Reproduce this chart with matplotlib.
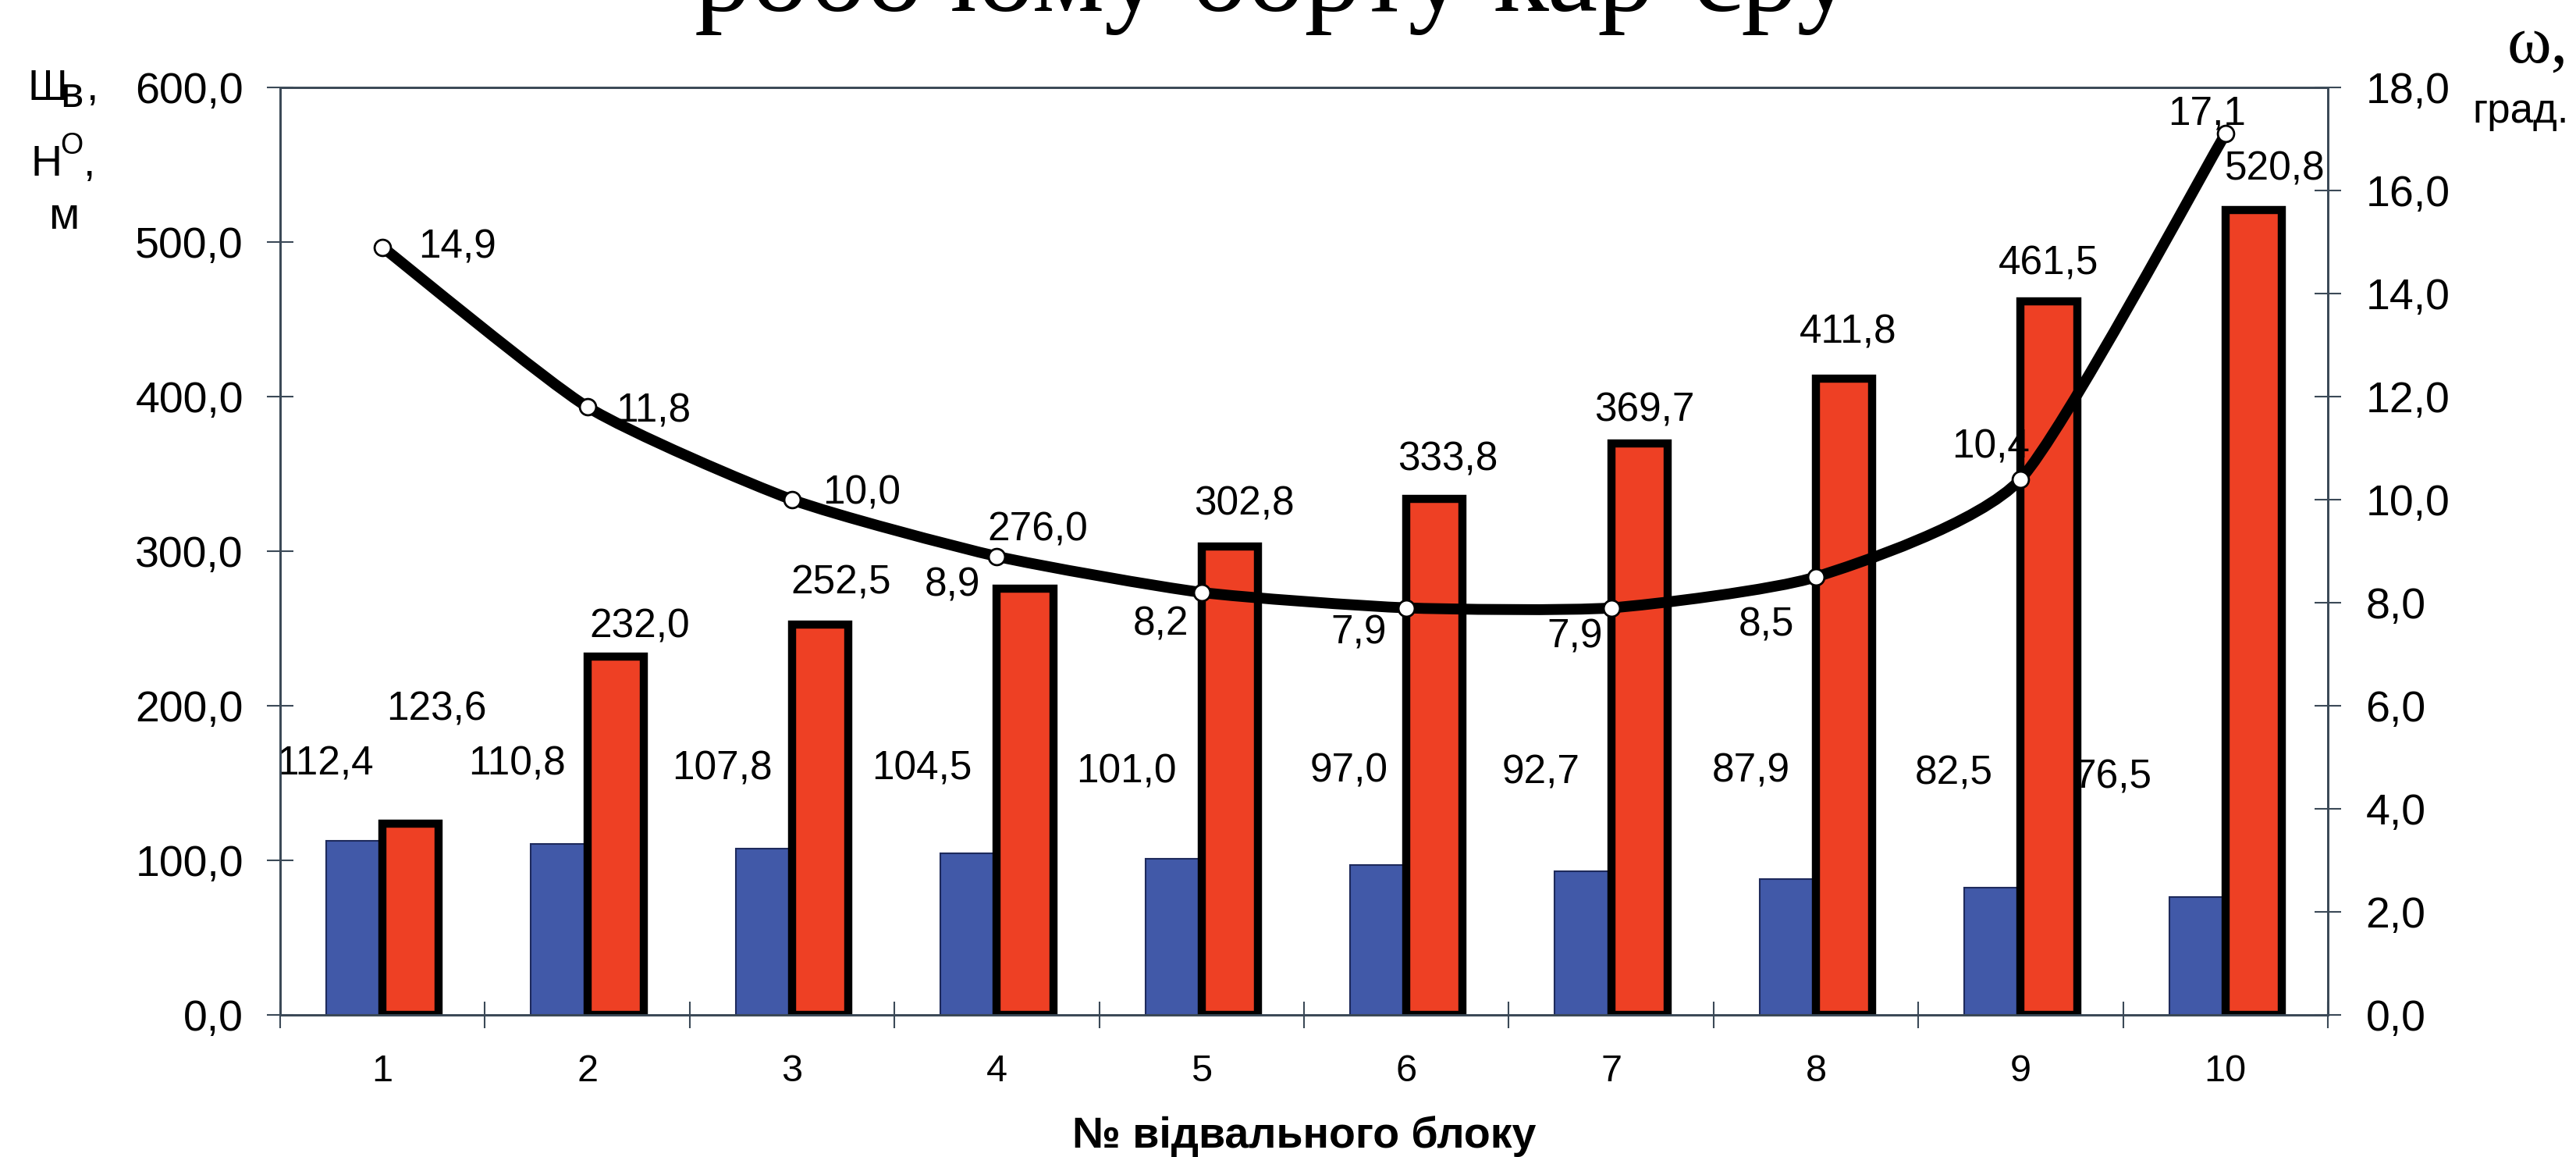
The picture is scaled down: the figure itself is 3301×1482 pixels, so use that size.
import matplotlib
matplotlib.use("Agg")
import matplotlib.pyplot as plt
import numpy as np
from matplotlib.path import Path
from matplotlib.patches import PathPatch
from matplotlib.ticker import FuncFormatter

plt.rcParams["font.family"] = ["Liberation Sans", "DejaVu Sans"]

# ---- дані ----
blocks = ["1", "2", "3", "4", "5", "6", "7", "8", "9", "10"]
shv = [112.4, 110.8, 107.8, 104.5, 101.0, 97.0, 92.7, 87.9, 82.5, 76.5]       # Шв, м
ho = [123.6, 232.0, 252.5, 276.0, 302.8, 333.8, 369.7, 411.8, 461.5, 520.8]   # Но, м
omega = [14.9, 11.8, 10.0, 8.9, 8.2, 7.9, 7.9, 8.5, 10.4, 17.1]              # ω, град.

left_ticks = [0, 100, 200, 300, 400, 500, 600]
right_ticks = [0, 2, 4, 6, 8, 10, 12, 14, 16, 18]

# зсуви підписів (пт), окремо від даних
shv_lbl_dx = [-8, -20, -18, -23, -23, -17, -29, -24, -26, -68]
shv_lbl_dy = [71, 73, 73, 78, 80, 86, 91, 99, 105, 110]
ho_lbl_dx = [24, 22, 19, 12, 13, 12, 5, 4, 0, 20]
ho_lbl_dy = [105, 27, 38, 54, 39, 36, 30, 42, 35, 37]
om_lbl = [(33, 0, "left"), (26, -4, "left"), (28, 6, "left"), (-15, -27, "right"),
          (-12, -30, "right"), (-18, -23, "right"), (-8, -27, "right"),
          (-20, -45, "right"), (8, 29, "right"), (-17, 18, "center")]

BLUE = "#4159A8"
RED = "#EE4024"
SPINE = "#3B4957"
W = 3301
H = 1482
TENSION = 0.1   # згладжування лінії (Excel ~ 1/6)


def fmt(v):
    return f"{v:.1f}".replace(".", ",")


def smooth_path(xs, ys, k=TENSION):
    # згладжена лінія (кубічні Безьє через точки)
    verts = [(xs[0], ys[0])]
    codes = [Path.MOVETO]
    n = len(xs)
    for i in range(n - 1):
        x0, y0 = (xs[i - 1], ys[i - 1]) if i > 0 else (xs[i], ys[i])
        x1, y1 = xs[i], ys[i]
        x2, y2 = xs[i + 1], ys[i + 1]
        x3, y3 = (xs[i + 2], ys[i + 2]) if i + 2 < n else (x2, y2)
        verts += [(x1 + (x2 - x0) * k, y1 + (y2 - y0) * k),
                  (x2 - (x3 - x1) * k, y2 - (y3 - y1) * k),
                  (x2, y2)]
        codes += [Path.CURVE4] * 3
    return Path(verts, codes)


fig = plt.figure(figsize=(W / 100, H / 100), dpi=100)
ax = fig.add_axes([359 / W, 1 - 1300 / H, (2983 - 359) / W, (1300 - 112) / H])
ax2 = ax.twinx()

x = np.arange(1, len(blocks) + 1)
bw = 0.275

ax.bar(x - bw / 2, shv, bw, color=BLUE, edgecolor="#1E2A5C", linewidth=1.5, zorder=2)
ax.bar(x + bw / 2, ho, bw, color=RED, edgecolor="black", linewidth=7.5, zorder=3)

ax.set_xlim(0.5, len(blocks) + 0.5)
ax.set_ylim(0, 600)
ax2.set_ylim(0, 18)

ax.set_yticks(left_ticks)
ax2.set_yticks(right_ticks)
ax.yaxis.set_major_formatter(FuncFormatter(lambda v, p: fmt(v)))
ax2.yaxis.set_major_formatter(FuncFormatter(lambda v, p: fmt(v)))
ax.tick_params(axis="y", direction="inout", length=24, width=1.5, color=SPINE,
               labelsize=40, pad=22)
ax2.tick_params(axis="y", direction="inout", length=24, width=1.5, color=SPINE,
                labelsize=40, pad=23)

ax.set_xticks(x)
ax.set_xticklabels(blocks)
ax.set_xticks(np.arange(0.5, len(blocks) + 1, 1), minor=True)
ax.tick_params(axis="x", which="major", length=0, labelsize=35, pad=36)
ax.tick_params(axis="x", which="minor", direction="inout", length=24, width=1.5, color=SPINE)

for a in (ax, ax2):
    for s in a.spines.values():
        s.set_color(SPINE)
        s.set_linewidth(2)

# підписи стовпців
for i in range(len(blocks)):
    ax.annotate(fmt(shv[i]), (x[i], shv[i]), xytext=(shv_lbl_dx[i], shv_lbl_dy[i]),
                textcoords="offset points", ha="right", va="center", fontsize=37, zorder=5)
    ax.annotate(fmt(ho[i]), (x[i] + bw / 2, ho[i]), xytext=(ho_lbl_dx[i], ho_lbl_dy[i]),
                textcoords="offset points", ha="center", va="center", fontsize=37, zorder=5)

# кут ω
ax2.add_patch(PathPatch(smooth_path(list(x), omega), fill=False, edgecolor="black",
                        linewidth=10, capstyle="round", joinstyle="round", zorder=4))
ax2.plot(x, omega, linestyle="none", marker="o", markersize=15, markerfacecolor="white",
         markeredgecolor="black", markeredgewidth=2, zorder=5)
for i in range(len(blocks)):
    dx, dy, ha = om_lbl[i]
    ax2.annotate(fmt(omega[i]), (x[i], omega[i]), xytext=(dx, dy), textcoords="offset points",
                 ha=ha, va="center", fontsize=37, zorder=6)


# назви осей
def ftxt(px, py, s, size, **kw):
    fig.text(px / W, 1 - py / H, s, fontsize=size, va="baseline", **kw)


ftxt(36, 128, "Ш", 40)
ftxt(77, 137, "в", 40)
ftxt(110, 128, ",", 40)
ftxt(40, 225, "Н", 40)
ftxt(77, 197, "О", 27)
ftxt(106, 225, ",", 40)
ftxt(63, 293, "м", 41)
ftxt(3213, 80, "ω,", 62, family=["Liberation Serif", "DejaVu Serif"])
ftxt(3168, 157, "град.", 38)
ftxt(1671, 1470, "№ відвального блоку", 40, ha="center", fontweight="bold")

# заголовок (обрізаний зверху)
ftxt(890, 14, "робочому борту кар’єру", 105, family=["Liberation Serif", "DejaVu Serif"])

fig.savefig("out.png", dpi=100)
